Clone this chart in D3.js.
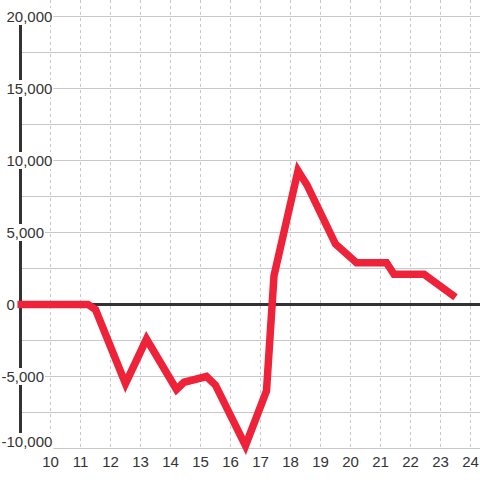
<!DOCTYPE html>
<html lang="en">
<head>
<meta charset="UTF-8">
<script src="https://d3js.org/d3.v7.min.js"></script>
<style>
body { margin: 0; background: #ffffff; }
svg { display: block; }
text { font-family: "Liberation Sans", Arial, sans-serif; font-size: 15px; fill: #333333; }
</style>
</head>
<body>
<svg></svg>
<script>
// series
var xValues = [8.9, 11.25, 11.5, 12.5, 13.2, 14.2, 14.45, 15.2, 15.5, 16.5, 17.2, 17.45, 18.25, 18.55, 19.5, 20.2, 21.2, 21.45, 22.45, 23.5];
var yValues = [0, 0, -350, -5500, -2400, -5900, -5400, -5000, -5600, -9800, -6000, 2000, 9300, 8300, 4200, 2900, 2900, 2100, 2100, 500];

var xTicks = [10, 11, 12, 13, 14, 15, 16, 17, 18, 19, 20, 21, 22, 23, 24];
var xTickLabels = ["10", "11", "12", "13", "14", "15", "16", "17", "18", "19", "20", "21", "22", "23", "24"];
var yTicks = [20000, 15000, 10000, 5000, 0, -5000, -10000];
var yTickLabels = ["20,000", "15,000", "10,000", "5,000", "0", "-5,000", "-10,000"];
var yGrid = [20000, 17500, 15000, 12500, 10000, 7500, 5000, 2500, -2500, -5000, -7500, -10000];

var width = 480, height = 480;

var svg = d3.select("svg")
    .attr("width", width)
    .attr("height", height);

var x = d3.scaleLinear().domain([9, 24]).range([20.5, 470.5]);
var y = d3.scaleLinear().domain([-10000, 20000]).range([448.5, 16.5]);

// dashed verticals
svg.append("g").selectAll("line")
    .data(xTicks)
    .enter().append("line")
    .attr("x1", function(d) { return x(d); })
    .attr("x2", function(d) { return x(d); })
    .attr("y1", 0)
    .attr("y2", y(-10000))
    .attr("stroke", "#c8c8c8")
    .attr("stroke-width", 1)
    .attr("stroke-dasharray", "3,3");

// horizontal grid
svg.append("g").selectAll("line")
    .data(yGrid)
    .enter().append("line")
    .attr("x1", x(9))
    .attr("x2", width)
    .attr("y1", function(d) { return y(d); })
    .attr("y2", function(d) { return y(d); })
    .attr("stroke", "#c8c8c8")
    .attr("stroke-width", 1);

// zero line
svg.append("line")
    .attr("x1", x(9))
    .attr("x2", width)
    .attr("y1", y(0))
    .attr("y2", y(0))
    .attr("stroke", "#333333")
    .attr("stroke-width", 3);

// left axis line
svg.append("line")
    .attr("x1", x(9))
    .attr("x2", x(9))
    .attr("y1", y(20000))
    .attr("y2", y(-10000))
    .attr("stroke", "#333333")
    .attr("stroke-width", 3);

var pts = xValues.map(function(v, i) { return [v, yValues[i]]; });

svg.append("path")
    .datum(pts)
    .attr("fill", "none")
    .attr("stroke", "#ee2238")
    .attr("stroke-width", 7.5)
    .attr("stroke-linejoin", "miter")
    .attr("d", d3.line()
        .x(function(d) { return x(d[0]); })
        .y(function(d) { return y(d[1]); }));

// y labels sit on a white box over the axis
var yl = svg.append("g").selectAll("g")
    .data(yTicks)
    .enter().append("g");

yl.append("text")
    .attr("x", function(d) { return d < 0 ? 1.5 : 6.5; })
    .attr("y", function(d) { return Math.min(y(d) + 5.5, 447); })
    .text(function(d, i) { return yTickLabels[i]; });

yl.each(function() {
    var g = d3.select(this);
    var b = g.select("text").node().getBBox();
    g.insert("rect", "text")
        .attr("x", b.x - 1)
        .attr("y", b.y)
        .attr("width", b.width + 2)
        .attr("height", b.height)
        .attr("fill", "#ffffff");
});

// x labels
svg.append("g").selectAll("text")
    .data(xTicks)
    .enter().append("text")
    .attr("x", function(d) { return x(d); })
    .attr("y", 467)
    .attr("text-anchor", "middle")
    .text(function(d, i) { return xTickLabels[i]; });
</script>
</body>
</html>
